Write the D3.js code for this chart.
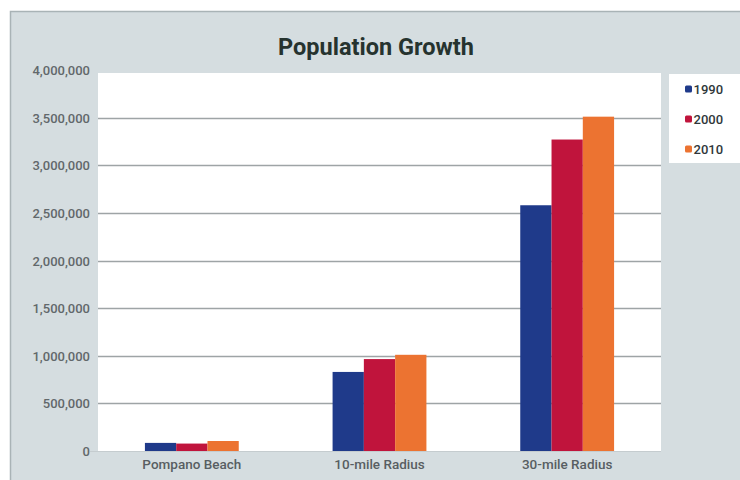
<!DOCTYPE html>
<html><head><meta charset="utf-8">
<script src="https://cdn.jsdelivr.net/npm/d3@7"></script>
<style>body{margin:0;background:#fff;}svg{display:block;}</style>
</head><body>
<svg id="c" width="740" height="480"></svg>
<script>
const categories = ["Pompano Beach", "10-mile Radius", "30-mile Radius"];
const seriesNames = ["1990", "2000", "2010"];
const values1990 = [85000, 830000, 2580000];
const values2000 = [78000, 965000, 3270000];
const values2010 = [105000, 1010000, 3510000];
const yTicks = [0, 500000, 1000000, 1500000, 2000000, 2500000, 3000000, 3500000, 4000000];
const colors = ["#1f3a8a", "#c0143c", "#ec7331"];

const seriesValues = [values1990, values2000, values2010];
const svg = d3.select("#c");
const font = "Roboto, 'DejaVu Sans', sans-serif";

// outer panel
svg.append("rect").attr("x", 10.5).attr("y", 11.5).attr("width", 740).attr("height", 480)
  .attr("fill", "#d5dde0").attr("stroke", "#a9b3b6").attr("stroke-width", 1.5);

const m = {left: 98, right: 661, top: 70, bottom: 451};
// plot area
svg.append("rect").attr("x", m.left).attr("y", 73).attr("width", m.right - m.left).attr("height", m.bottom - 73)
  .attr("fill", "#ffffff");

const y = d3.scaleLinear().domain([0, 4000000]).range([m.bottom, m.top]);
const x0 = d3.scaleBand().domain(categories).range([m.left, m.right]).paddingInner(0.5).paddingOuter(0.25);
const x1 = d3.scaleBand().domain(seriesNames).range([0, x0.bandwidth()]);

// gridlines
svg.append("g").selectAll("line").data(yTicks.filter(t => t > 0 && t < 4000000)).join("line")
  .attr("x1", m.left).attr("x2", m.right)
  .attr("y1", d => Math.round(y(d)) + 0.5).attr("y2", d => Math.round(y(d)) + 0.5)
  .attr("stroke", "#9ea4a6").attr("stroke-width", 1.6);

// y axis
const yAxis = svg.append("g").attr("transform", `translate(${m.left},0)`)
  .call(d3.axisLeft(y).tickValues(yTicks).tickFormat(d3.format(",")).tickSize(0).tickPadding(8));
yAxis.select(".domain").remove();
yAxis.selectAll("text").attr("font-family", font).attr("font-size", 13).attr("font-weight", 500)
  .attr("fill", "#62686b").attr("dy", "0.35em");

// bars
const groups = svg.append("g").selectAll("g").data(categories).join("g")
  .attr("transform", d => `translate(${x0(d)},0)`);
groups.selectAll("rect").data((c, i) => seriesNames.map((s, j) => ({s, v: seriesValues[j][i], j})))
  .join("rect")
  .attr("x", d => x1(d.s)).attr("width", x1.bandwidth())
  .attr("y", d => y(d.v)).attr("height", d => y(0) - y(d.v))
  .attr("fill", d => colors[d.j]);

// baseline
svg.append("line").attr("x1", m.left - 8).attr("x2", m.right).attr("y1", m.bottom + 0.5).attr("y2", m.bottom + 0.5)
  .attr("stroke", "#c5cccf").attr("stroke-width", 1);

// x axis
const xAxis = svg.append("g").attr("transform", `translate(0,${m.bottom})`)
  .call(d3.axisBottom(x0).tickSize(0).tickPadding(8));
xAxis.select(".domain").remove();
xAxis.selectAll("text").attr("font-family", font).attr("font-size", 13.5).attr("font-weight", 500).attr("fill", "#585e62");

// title
svg.append("text").attr("x", 376).attr("y", 55).attr("text-anchor", "middle")
  .attr("font-family", font).attr("font-weight", "bold").attr("font-size", 23.5)
  .attr("fill", "#26332f").text("Population Growth");

// legend
svg.append("rect").attr("x", 669).attr("y", 74).attr("width", 80).attr("height", 89).attr("fill", "#ffffff");
const leg = svg.append("g").selectAll("g").data(seriesNames).join("g")
  .attr("transform", (d, i) => `translate(685,${89 + i * 30})`);
leg.append("rect").attr("x", 0).attr("y", -3.5).attr("width", 7).attr("height", 7).attr("rx", 1.5)
  .attr("fill", (d, i) => colors[i]);
leg.append("text").attr("x", 8.5).attr("y", 0).attr("dy", "0.36em")
  .attr("font-family", font).attr("font-size", 13).attr("font-weight", 500).attr("fill", "#30373a").text(d => d);
</script>
</body></html>
